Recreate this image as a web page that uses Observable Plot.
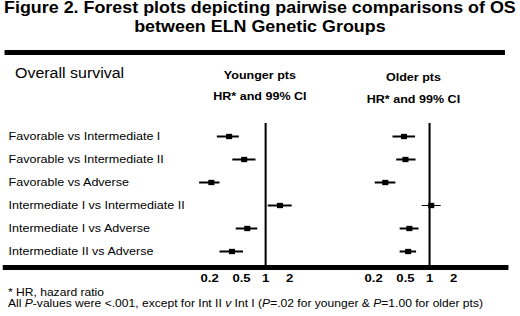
<!DOCTYPE html>
<html>
<head>
<meta charset="utf-8">
<script src="https://cdn.jsdelivr.net/npm/d3@7"></script>
<script src="https://cdn.jsdelivr.net/npm/@observablehq/plot@0.6"></script>
<style>
  html, body { margin: 0; padding: 0; background: #fff; }
  #page { position: relative; width: 520px; height: 316px; overflow: hidden; background: #fff; }
  #wrap { position: absolute; left: 0; top: 0; width: 456px; height: 316px;
          transform: scaleX(1.14); transform-origin: 0 0;
          font-family: "Liberation Sans", Arial, sans-serif; color: #000; }
  #wrap svg { position: absolute; left: 0; top: 0; }
  .t { position: absolute; white-space: nowrap; line-height: 1; }
  #title { position: absolute; left: 0; top: -0.8px; width: 456px; text-align: center;
           font-weight: bold; font-size: 15.7px; line-height: 18.5px; }
  #topRule { position: absolute; left: 4.4px; top: 50px; width: 438.6px; height: 5px; background: #000; }
  .hd { position: absolute; width: 140px; text-align: center; font-weight: bold; font-size: 11px; line-height: 1; white-space: nowrap; }
</style>
</head>
<body>
<div id="page">
  <div id="wrap">
    <div id="title">Figure 2. Forest plots depicting pairwise comparisons of OS<br>between ELN Genetic Groups</div>
    <div id="topRule"></div>
    <div class="t" style="left:13.2px; top:65.5px; font-size:14px;">Overall survival</div>
    <div class="hd" style="left:158px; top:70px;">Younger pts</div>
    <div class="hd" style="left:158px; top:91.4px;">HR* and 99% CI</div>
    <div class="hd" style="left:292.7px; top:72px;">Older pts</div>
    <div class="hd" style="left:292.7px; top:93.5px;">HR* and 99% CI</div>
    <div class="t" style="left:7px; top:286.7px; font-size:10.6px;">* HR, hazard ratio</div>
    <div class="t" style="left:7px; top:297.7px; font-size:10.6px;">All <i>P</i>-values were &lt;.001, except for Int II <i>v</i> Int I (<i>P</i>=.02 for younger &amp; <i>P</i>=1.00 for older pts)</div>
  </div>
</div>
<script>
// ---- data ----
const comparisons = [
  "Favorable vs Intermediate I",
  "Favorable vs Intermediate II",
  "Favorable vs Adverse",
  "Intermediate I vs Intermediate II",
  "Intermediate I vs Adverse",
  "Intermediate II vs Adverse"
];
const youngerHR = [0.35, 0.54, 0.21, 1.51, 0.59, 0.38];
const youngerLo = [0.25, 0.39, 0.15, 1.08, 0.43, 0.27];
const youngerHi = [0.47, 0.76, 0.27, 2.15, 0.80, 0.53];
const olderHR   = [0.48, 0.50, 0.28, 1.05, 0.56, 0.54];
const olderLo   = [0.35, 0.39, 0.21, 0.81, 0.43, 0.43];
const olderHi   = [0.67, 0.68, 0.38, 1.40, 0.74, 0.69];
const hrTicks   = [0.2, 0.5, 1, 2];

const build = (hr, lo, hi) => comparisons.map((c, i) => ({comparison: c, hr: hr[i], lo: lo[i], hi: hi[i]}));
const younger = build(youngerHR, youngerLo, youngerHi);
const older = build(olderHR, olderLo, olderHi);

// ---- layout (inner frame is horizontally stretched by 1.14) ----
const W = 456, H = 316;
const K = 30.5; // px per ln unit
const yRange = [135, 252.3];
const common = {
  width: W, height: H,
  marginTop: 123, marginBottom: 49, marginLeft: 4.4, marginRight: 13,
  style: {background: "transparent", fontFamily: "'Liberation Sans', Arial, sans-serif", fontSize: "11px", color: "#000", overflow: "visible"}
};
const xScale = (one) => ({type: "log", domain: [0.2, 2], range: [one + K * Math.log(0.2), one + K * Math.log(2)], axis: null});
const yScale = {type: "point", domain: comparisons, range: yRange, padding: 0, axis: null};

function forestMarks(data) {
  return [
    Plot.ruleX([1], {stroke: "#000", strokeWidth: 1.8}),
    Plot.ruleY(data, {y: "comparison", x1: "lo", x2: "hi", stroke: "#000",
      strokeWidth: d => (d.lo < 1 && d.hi > 1 ? 1 : 2)}),
    Plot.dot(data, {x: "hr", y: "comparison", symbol: "square", r: 3, fill: "#000", stroke: null}),
    Plot.axisX({ticks: hrTicks, tickFormat: d => String(d), tickSize: 0, tickPadding: 6,
      fontWeight: "bold", fontSize: 11.5, label: null, anchor: "bottom"})
  ];
}

const plotA = Plot.plot({
  ...common,
  x: xScale(232.5),
  y: yScale,
  marks: [
    Plot.frame({anchor: "bottom", stroke: "#000", strokeWidth: 5}),
    Plot.text(comparisons, {y: d => d, frameAnchor: "left", textAnchor: "start", dx: 2.6, fontSize: 11, fill: "#000"}),
    ...forestMarks(younger)
  ]
});

const plotB = Plot.plot({
  ...common,
  x: xScale(376.3),
  y: yScale,
  marks: forestMarks(older)
});

const wrap = document.getElementById("wrap");
wrap.appendChild(plotA);
wrap.appendChild(plotB);
</script>
</body>
</html>
